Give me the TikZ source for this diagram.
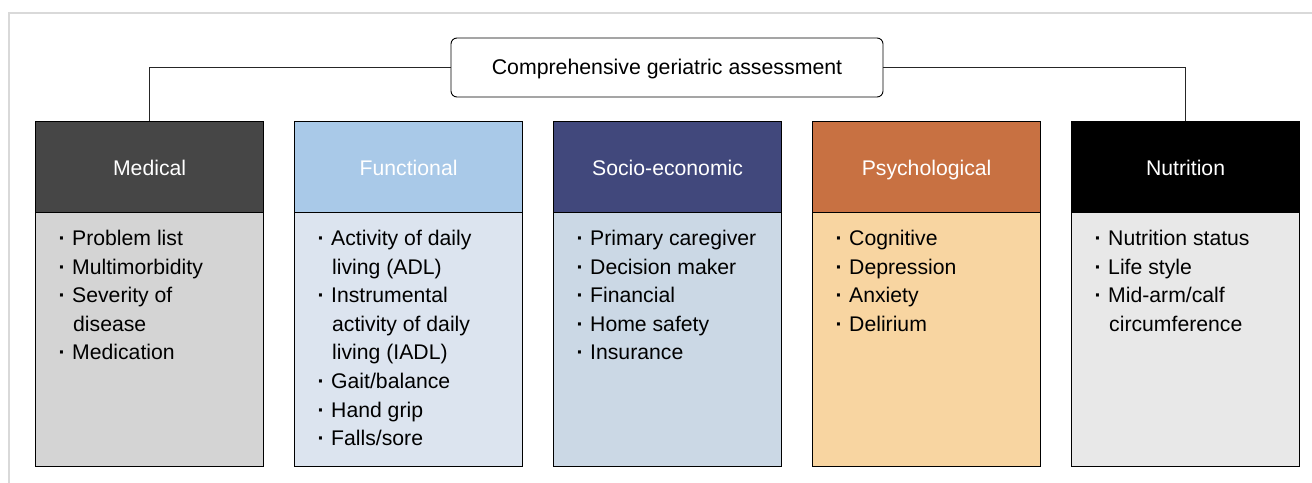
\documentclass[tikz,border=0pt]{standalone}
\usepackage{fontspec}
\setmainfont{Liberation Sans}
\definecolor{frame}{HTML}{D9D9D9}
\definecolor{medH}{HTML}{464646}
\definecolor{medB}{HTML}{D4D4D4}
\definecolor{funH}{HTML}{A9C9E8}
\definecolor{funB}{HTML}{DCE4EF}
\definecolor{socH}{HTML}{41487C}
\definecolor{socB}{HTML}{CBD8E5}
\definecolor{psyH}{HTML}{C87142}
\definecolor{psyB}{HTML}{F8D5A1}
\definecolor{nutH}{HTML}{000000}
\definecolor{nutB}{HTML}{E8E8E8}
\newcommand\bul[1]{\makebox[14pt][l]{\hspace*{0.5pt}\textbf{·}}#1}
\newcommand\cont[1]{\hspace*{15pt}#1}
\begin{document}
\begin{tikzpicture}[x=1pt,y=-1pt,
  hdr/.style={draw=black,line width=1.2pt,minimum width=228pt,minimum height=91pt,anchor=north west,inner sep=0pt,text=white,text height=16pt,text depth=0pt,font=\fontsize{21.2}{25}\selectfont},
  bdy/.style={draw=black,line width=1.2pt,minimum width=228pt,minimum height=254pt,anchor=north west,inner sep=0pt},
  lst/.style={anchor=north west,inner sep=0pt,align=left,font=\fontsize{21.2}{28.6}\selectfont},
  ttl/.style={draw=black,line width=0.9pt,rounded corners=6pt,fill=white,minimum width=432pt,minimum height=59pt,inner sep=0pt,text height=16pt,text depth=3pt,font=\fontsize{21.3}{25}\selectfont},
  conn/.style={draw=black!85,line width=1.2pt}
  ]
\useasboundingbox (0,0) rectangle (1312,482);
\fill[white] (0,0) rectangle (1312,482);
\draw[frame,line width=2pt] (1314,12.5) -- (8.5,12.5) -- (8.5,484);

% boxes
\node[bdy,fill=medB] (b1) at (35,212) {};
\node[hdr,fill=medH] (h1) at (35,121) {Medical};
\node[bdy,fill=funB] (b2) at (294,212) {};
\node[hdr,fill=funH] (h2) at (294,121) {Functional};
\node[bdy,fill=socB] (b3) at (553,212) {};
\node[hdr,fill=socH] (h3) at (553,121) {Socio-economic};
\node[bdy,fill=psyB] (b4) at (812,212) {};
\node[hdr,fill=psyH] (h4) at (812,121) {Psychological};
\node[bdy,fill=nutB] (b5) at (1071,212) {};
\node[hdr,fill=nutH] (h5) at (1071,121) {Nutrition};

% title
\node[ttl] (t) at (667,67.5) {Comprehensive geriatric assessment};
\draw[conn] (h1.north) |- (t.west);
\draw[conn] (h5.north) |- (t.east);

% lists
\node[lst] (l1) at ([xshift=23pt,yshift=-18pt]b1.north west)
  {\bul{Problem list}\\ \bul{Multimorbidity}\\ \bul{Severity of}\\ \cont{disease}\\ \bul{Medication}};
\node[lst] (l2) at ([xshift=23pt,yshift=-18pt]b2.north west)
  {\bul{Activity of daily}\\ \cont{living (ADL)}\\ \bul{Instrumental}\\ \cont{activity of daily}\\ \cont{living (IADL)}\\ \bul{Gait/balance}\\ \bul{Hand grip}\\ \bul{Falls/sore}};
\node[lst] (l3) at ([xshift=23pt,yshift=-18pt]b3.north west)
  {\bul{Primary caregiver}\\ \bul{Decision maker}\\ \bul{Financial}\\ \bul{Home safety}\\ \bul{Insurance}};
\node[lst] (l4) at ([xshift=23pt,yshift=-18pt]b4.north west)
  {\bul{Cognitive}\\ \bul{Depression}\\ \bul{Anxiety}\\ \bul{Delirium}};
\node[lst] (l5) at ([xshift=23pt,yshift=-18pt]b5.north west)
  {\bul{Nutrition status}\\ \bul{Life style}\\ \bul{Mid-arm/calf}\\ \cont{circumference}};
\end{tikzpicture}
\end{document}
